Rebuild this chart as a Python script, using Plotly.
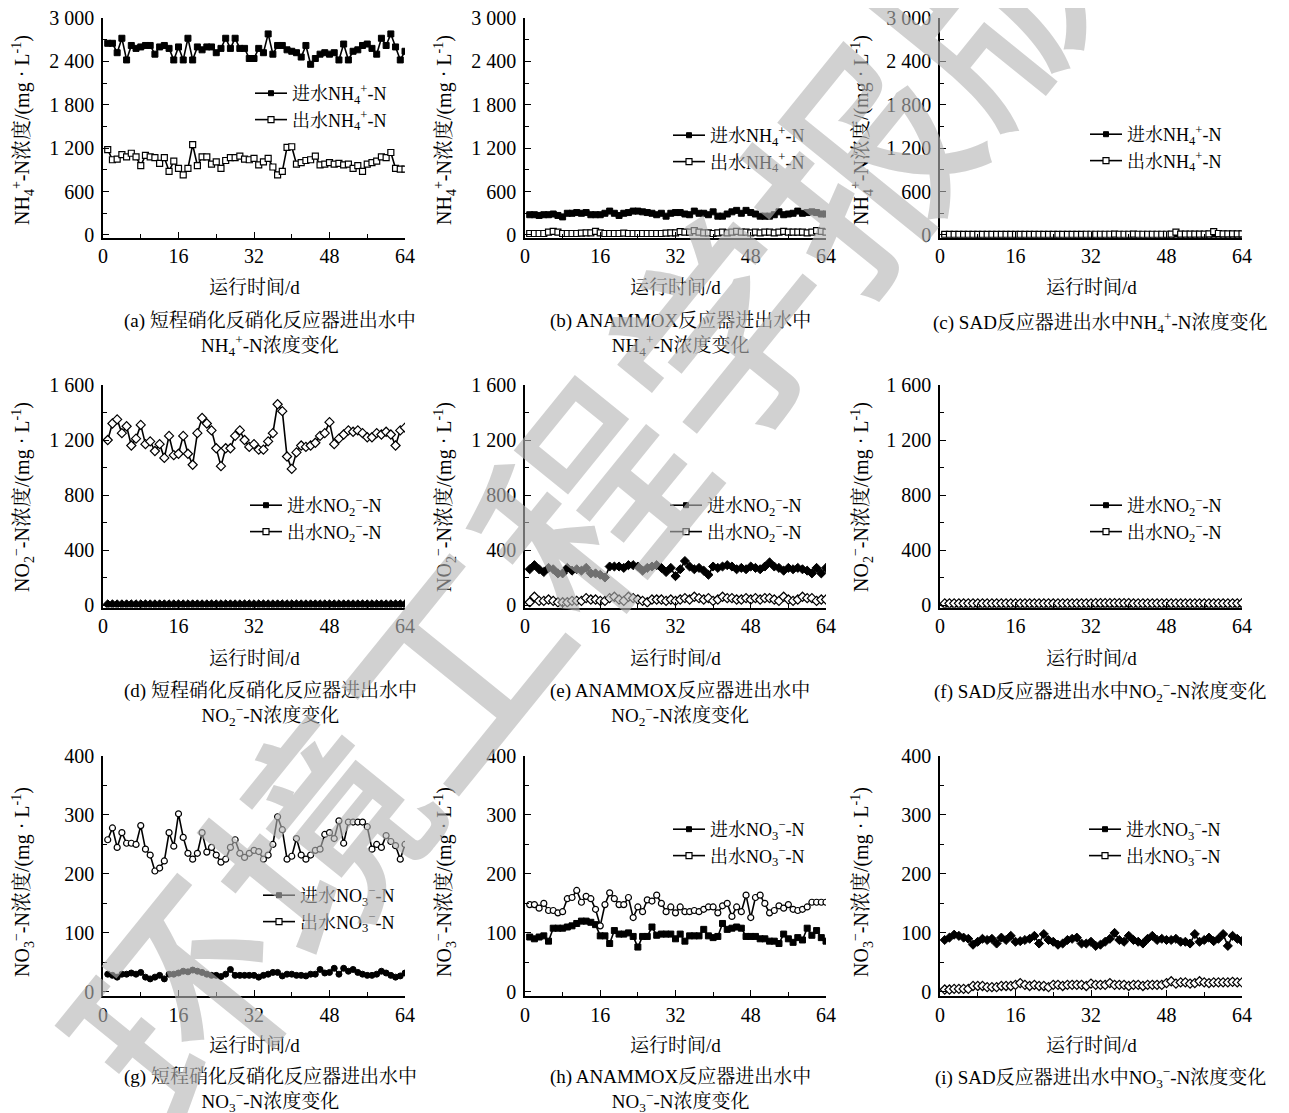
import plotly.graph_objects as go

W, H = 1289, 1113
OFF = 8  # the page body adds an 8 px margin; positions below are in screenshot pixels
FONT = "Liberation Serif, Times New Roman, Noto Serif CJK SC, Noto Sans CJK SC, serif"

# ---------------- data (mg/L), one value per day ----------------
A_IN = [2650, 2650, 2520, 2720, 2420, 2620, 2580, 2600, 2620, 2620, 2500, 2600, 2620, 2580, 2420, 2600,
        2420, 2720, 2420, 2600, 2560, 2600, 2600, 2520, 2580, 2720, 2580, 2720, 2580, 2580, 2440, 2440,
        2580, 2520, 2780, 2500, 2620, 2620, 2560, 2540, 2520, 2460, 2620, 2360, 2440, 2500, 2520, 2500,
        2520, 2420, 2640, 2420, 2540, 2560, 2620, 2640, 2580, 2500, 2720, 2620, 2780, 2600, 2420, 2540]
A_OUT = [1180, 1040, 1050, 1110, 1080, 1130, 1080, 960, 1100, 1080, 1070, 990, 1070, 880, 1020, 920,
         830, 920, 1250, 960, 1080, 1080, 980, 1010, 920, 1030, 1070, 1070, 1090, 1050, 1040, 1060,
         970, 1010, 1060, 940, 830, 880, 1210, 1220, 980, 1000, 1030, 1040, 1090, 970, 980, 1000,
         980, 990, 970, 980, 920, 960, 880, 980, 1000, 1020, 1080, 1070, 1140, 920, 910, 910]
B_IN = [280, 280, 270, 280, 280, 290, 270, 250, 300, 300, 310, 300, 310, 280, 280, 280,
        300, 330, 300, 270, 300, 310, 330, 330, 320, 310, 300, 280, 300, 260, 300, 310,
        310, 290, 280, 330, 300, 300, 280, 320, 260, 260, 290, 320, 340, 300, 340, 310,
        290, 260, 260, 260, 280, 320, 280, 290, 300, 330, 300, 310, 320, 310, 290, 290]
B_OUT = [20, 20, 20, 20, 40, 50, 40, 20, 20, 20, 20, 25, 30, 30, 50, 30,
         20, 20, 20, 20, 25, 20, 20, 20, 20, 20, 20, 20, 20, 25, 30, 30,
         45, 40, 40, 60, 40, 30, 30, 20, 30, 40, 30, 40, 50, 40, 40, 30,
         40, 30, 40, 40, 30, 40, 50, 40, 40, 40, 40, 30, 40, 60, 50, 40]
C_IN = [2, 2, 2, 2, 2, 2, 2, 2, 2, 2, 2, 2, 2, 2, 2, 2,
        2, 2, 2, 2, 2, 2, 2, 2, 2, 2, 2, 2, 2, 2, 2, 2,
        3, 3, 3, 3, 3, 3, 3, 3, 3, 3, 3, 3, 3, 3, 3, 3,
        3, 3, 3, 3, 3, 3, 3, 3, 3, 3, 3, 3, 3, 3, 3, 3]
C_OUT = [8, 8, 8, 8, 8, 8, 8, 8, 8, 8, 8, 8, 8, 8, 8, 8,
         8, 8, 8, 8, 8, 8, 8, 8, 8, 8, 8, 8, 8, 8, 10, 10,
         10, 10, 10, 10, 12, 10, 10, 10, 12, 10, 10, 10, 10, 10, 10, 10,
         12, 40, 12, 12, 12, 12, 12, 12, 15, 45, 20, 15, 15, 15, 15, 15]
D_IN = [5] * 64
D_OUT = [1200, 1320, 1350, 1250, 1300, 1160, 1210, 1310, 1170, 1190, 1120, 1170, 1070, 1230, 1090, 1100,
         1230, 1100, 1020, 1250, 1360, 1320, 1270, 1140, 1010, 1140, 1140, 1230, 1270, 1200, 1150, 1170,
         1130, 1130, 1190, 1250, 1460, 1410, 1080, 990, 1110, 1160, 1150, 1160, 1180, 1230, 1250, 1330,
         1170, 1210, 1240, 1270, 1260, 1270, 1250, 1220, 1220, 1250, 1240, 1260, 1240, 1160, 1270, 1290]
E_IN = [260, 290, 260, 240, 270, 260, 230, 230, 270, 250, 260, 250, 270, 230, 230, 220,
        200, 280, 280, 280, 270, 290, 290, 280, 250, 270, 280, 290, 270, 240, 270, 210,
        260, 320, 280, 260, 270, 250, 220, 280, 270, 280, 290, 280, 260, 270, 260, 280,
        270, 260, 280, 310, 280, 270, 250, 270, 260, 270, 260, 250, 230, 270, 230, 270]
E_OUT = [20, 60, 30, 30, 40, 30, 20, 20, 20, 30, 30, 30, 50, 40, 40, 30,
         30, 50, 60, 40, 30, 60, 50, 40, 30, 20, 40, 40, 40, 30, 40, 30,
         40, 50, 40, 60, 50, 40, 50, 30, 40, 60, 50, 50, 40, 40, 50, 40,
         50, 40, 50, 50, 40, 30, 60, 40, 30, 40, 60, 50, 50, 30, 40, 40]
F_IN = [3] * 64
F_OUT = [12, 12, 12, 12, 12, 12, 12, 12, 12, 12, 12, 12, 12, 12, 12, 12,
         12, 12, 12, 12, 12, 12, 12, 12, 12, 12, 12, 12, 12, 12, 12, 12,
         14, 14, 14, 14, 14, 14, 14, 14, 12, 12, 12, 12, 12, 12, 12, 12,
         12, 12, 12, 12, 12, 12, 12, 12, 12, 12, 12, 12, 12, 12, 12, 14]
G_IN = [30, 28, 25, 30, 30, 32, 30, 33, 25, 22, 25, 28, 22, 30, 30, 32,
        35, 34, 37, 35, 33, 30, 28, 28, 26, 30, 38, 28, 28, 28, 28, 28,
        25, 28, 30, 33, 33, 27, 30, 30, 28, 28, 27, 30, 30, 38, 32, 33,
        40, 30, 40, 35, 38, 33, 30, 28, 28, 30, 35, 32, 28, 25, 27, 32]
G_OUT = [258, 278, 245, 270, 252, 252, 250, 282, 242, 232, 205, 210, 222, 270, 247, 302,
         262, 235, 225, 235, 270, 237, 245, 232, 220, 225, 245, 258, 235, 228, 235, 240,
         238, 225, 232, 250, 297, 275, 225, 230, 260, 232, 225, 232, 240, 242, 267, 270,
         260, 290, 252, 288, 288, 288, 288, 280, 242, 250, 245, 265, 255, 248, 225, 250]
H_IN = [93, 90, 93, 95, 86, 108, 108, 108, 110, 112, 116, 120, 120, 118, 114, 95,
        95, 82, 104, 98, 98, 100, 94, 76, 94, 94, 110, 96, 98, 98, 98, 90,
        98, 86, 95, 95, 95, 106, 95, 92, 94, 116, 106, 108, 110, 108, 94, 94,
        94, 90, 90, 86, 86, 82, 98, 90, 84, 92, 88, 108, 96, 104, 92, 86]
H_OUT = [148, 148, 142, 150, 138, 138, 134, 136, 158, 160, 172, 152, 162, 158, 140, 112,
         148, 168, 158, 148, 148, 160, 126, 144, 136, 156, 154, 164, 150, 136, 144, 134,
         144, 136, 136, 138, 136, 140, 144, 144, 134, 146, 150, 128, 144, 136, 164, 126,
         160, 164, 150, 134, 138, 146, 142, 148, 140, 138, 140, 144, 152, 152, 152, 152]
I_IN = [88, 92, 97, 95, 92, 90, 80, 85, 90, 88, 90, 82, 92, 88, 95, 85,
        86, 88, 90, 95, 82, 98, 88, 85, 80, 82, 88, 90, 92, 82, 82, 85,
        78, 80, 85, 90, 100, 88, 85, 95, 88, 85, 82, 90, 95, 88, 90, 88,
        88, 90, 85, 85, 82, 98, 85, 88, 92, 86, 90, 98, 78, 95, 90, 86]
I_OUT = [4, 4, 5, 5, 5, 5, 10, 10, 10, 8, 8, 8, 10, 10, 10, 12,
         15, 12, 10, 12, 10, 10, 8, 12, 12, 10, 12, 12, 12, 12, 10, 14,
         12, 12, 12, 15, 12, 12, 12, 10, 12, 12, 10, 12, 12, 12, 12, 15,
         18, 14, 16, 16, 14, 15, 18, 16, 15, 16, 16, 16, 16, 17, 16, 16]

X_TICKS = [0, 16, 32, 48, 64]
Y_TICKS_NH4 = [0, 600, 1200, 1800, 2400, 3000]
Y_TEXT_NH4 = ["0", "600", "1 200", "1 800", "2 400", "3 000"]
Y_TICKS_NO2 = [0, 400, 800, 1200, 1600]
Y_TEXT_NO2 = ["0", "400", "800", "1 200", "1 600"]
Y_TICKS_NO3 = [0, 100, 200, 300, 400]
Y_TEXT_NO3 = ["0", "100", "200", "300", "400"]

NH4 = "NH<sub>4</sub><sup>+</sup>-N"
NO2 = "NO<sub>2</sub><sup>−</sup>-N"
NO3 = "NO<sub>3</sub><sup>−</sup>-N"
YT_NH4 = "NH<sub>4</sub><sup>+</sup>-N浓度/(mg · L<sup>-1</sup>)"
YT_NO2 = "NO<sub>2</sub><sup>−</sup>-N浓度/(mg · L<sup>-1</sup>)"
YT_NO3 = "NO<sub>3</sub><sup>−</sup>-N浓度/(mg · L<sup>-1</sup>)"
WATERMARK = "环境工程学报版权"

CAPTIONS = [
    "(a) 短程硝化反硝化反应器进出水中<br>" + NH4 + "浓度变化",
    "(b) ANAMMOX反应器进出水中<br>" + NH4 + "浓度变化",
    "(c) SAD反应器进出水中" + NH4 + "浓度变化",
    "(d) 短程硝化反硝化反应器进出水中<br>" + NO2 + "浓度变化",
    "(e) ANAMMOX反应器进出水中<br>" + NO2 + "浓度变化",
    "(f) SAD反应器进出水中" + NO2 + "浓度变化",
    "(g) 短程硝化反硝化反应器进出水中<br>" + NO3 + "浓度变化",
    "(h) ANAMMOX反应器进出水中<br>" + NO3 + "浓度变化",
    "(i) SAD反应器进出水中" + NO3 + "浓度变化",
]

# panel specs: (in data, out data, in symbol, out symbol, species, row, col)
PANELS = [
    (A_IN, A_OUT, "square", "square", NH4, 0, 0),
    (B_IN, B_OUT, "square", "square", NH4, 0, 1),
    (C_IN, C_OUT, "square", "square", NH4, 0, 2),
    (D_IN, D_OUT, "diamond", "diamond", NO2, 1, 0),
    (E_IN, E_OUT, "diamond", "diamond", NO2, 1, 1),
    (F_IN, F_OUT, "diamond", "diamond", NO2, 1, 2),
    (G_IN, G_OUT, "circle", "circle", NO3, 2, 0),
    (H_IN, H_OUT, "square", "circle", NO3, 2, 1),
    (I_IN, I_OUT, "diamond", "diamond", NO3, 2, 2),
]

# ---------------- layout geometry (screenshot pixels) ----------------
COL_X = [(103, 405), (525, 826), (940, 1242)]
ROW_Y = [(18, 237.5), (385, 607.5), (756, 996.0)]
ROW_RANGE = [(-35, 3000), (-18, 1600), (-7, 400)]
ROW_TICKS = [(Y_TICKS_NH4, Y_TEXT_NH4, 300), (Y_TICKS_NO2, Y_TEXT_NO2, 200), (Y_TICKS_NO3, Y_TEXT_NO3, 50)]
ROW_YTITLE = [YT_NH4, YT_NO2, YT_NO3]
YTITLE_X = [23, 445, 862]
YTITLE_Y = [130, 497, 882]
XTITLE_Y = [287, 658, 1045]
CAP_Y = [334, 704, 1090]          # centre of two-line captions
CAP_Y1 = [322, 691, 1077]         # centre of single-line captions
CAP_X = [270, 680, 1100]
# (start of legend line sample, centre of first legend row)
LEG_POS = [(255, 91), (673, 133), (1090, 132),
           (250, 503), (670, 503), (1090, 503),
           (263, 893), (673, 827), (1089, 827)]


def fx(px):
    return (px - OFF) / W


def fy(py):
    return 1 - (py - OFF) / H


fig = go.Figure()
layout = dict(
    width=W, height=H, margin=dict(l=0, r=0, t=0, b=0, autoexpand=False),
    paper_bgcolor="white", plot_bgcolor="white",
    font=dict(family=FONT, size=18, color="black"),
    annotations=[],
)

for k, (yin, yout, sin, sout, sp, r, c) in enumerate(PANELS):
    idx = k + 1
    xa = "x" if idx == 1 else f"x{idx}"
    ya = "y" if idx == 1 else f"y{idx}"
    leg = "legend" if idx == 1 else f"legend{idx}"
    days_in = list(range(1, len(yin) + 1))
    days_out = list(range(1, len(yout) + 1))
    # data traces
    fig.add_trace(go.Scatter(
        x=days_in, y=yin, xaxis=xa, yaxis=ya, showlegend=False, mode="lines+markers",
        name="进水" + sp, line=dict(color="black", width=1.6),
        marker=dict(symbol=sin, size=6 if sin != "diamond" else 7, color="black",
                    line=dict(color="black", width=1)),
    ))
    fig.add_trace(go.Scatter(
        x=days_out, y=yout, xaxis=xa, yaxis=ya, showlegend=False, mode="lines+markers",
        name="出水" + sp, line=dict(color="black", width=1.6),
        marker=dict(symbol=sout, size=6 if sout != "diamond" else 7, color="white",
                    line=dict(color="black", width=1.2)),
    ))
    # legend entries (the original legends always use square symbols)
    fig.add_trace(go.Scatter(
        x=[None], y=[None], xaxis=xa, yaxis=ya, legend=leg, mode="lines+markers",
        name="进水" + sp, line=dict(color="black", width=1.6),
        marker=dict(symbol="square", size=5, color="black", line=dict(color="black", width=1)),
    ))
    fig.add_trace(go.Scatter(
        x=[None], y=[None], xaxis=xa, yaxis=ya, legend=leg, mode="lines+markers",
        name="出水" + sp, line=dict(color="black", width=1.6),
        marker=dict(symbol="square", size=6, color="white", line=dict(color="black", width=1.2)),
    ))
    x0, x1 = COL_X[c]
    ytop, ybot = ROW_Y[r]
    tv, tt, minor = ROW_TICKS[r]
    axis_common = dict(showline=True, linecolor="black", linewidth=1.5, showgrid=False, zeroline=False,
                       ticks="inside", ticklen=6, tickwidth=1.2, tickcolor="black", automargin=False,
                       ticklabeloverflow="allow",
                       tickfont=dict(family=FONT, size=20, color="black"))
    layout["xaxis" if idx == 1 else f"xaxis{idx}"] = dict(
        domain=[fx(x0), fx(x1)], anchor=ya, range=[0, 64], tickvals=X_TICKS,
        minor=dict(dtick=8, tick0=0, ticks="inside", ticklen=4, tickcolor="black", tickwidth=1.2),
        **axis_common)
    layout["yaxis" if idx == 1 else f"yaxis{idx}"] = dict(
        domain=[fy(ybot), fy(ytop)], anchor=xa, range=list(ROW_RANGE[r]),
        tickvals=tv, ticktext=tt, ticklabelstandoff=3,
        minor=dict(dtick=minor, tick0=0, ticks="inside", ticklen=4, tickcolor="black", tickwidth=1.2),
        **axis_common)
    lx, ly = LEG_POS[k]
    layout[leg] = dict(x=fx(lx - 5), y=fy(ly - 16), xanchor="left", yanchor="top",
                       bgcolor="rgba(0,0,0,0)", font=dict(family=FONT, size=18, color="black"),
                       tracegroupgap=0, itemwidth=32)
    layout["annotations"].append(dict(
        text="运行时间/d", x=fx((x0 + x1) / 2), y=fy(XTITLE_Y[r]), xref="paper", yref="paper",
        showarrow=False, xanchor="center", yanchor="middle", font=dict(family=FONT, size=19)))
    layout["annotations"].append(dict(
        text=ROW_YTITLE[r], x=fx(YTITLE_X[c]), y=fy(YTITLE_Y[r]), xref="paper", yref="paper",
        showarrow=False, textangle=-90, xanchor="center", yanchor="middle", font=dict(family=FONT, size=20)))
    cap_y = CAP_Y[r] if "<br>" in CAPTIONS[k] else CAP_Y1[r]
    layout["annotations"].append(dict(
        text=CAPTIONS[k], x=fx(CAP_X[c]), y=fy(cap_y), xref="paper", yref="paper",
        showarrow=False, xanchor="center", yanchor="middle", align="center",
        font=dict(family=FONT, size=19)))

# journal watermark drawn over the figure
layout["annotations"].append(dict(
    text=WATERMARK, x=fx(648), y=fy(410), xref="paper", yref="paper", showarrow=False,
    textangle=-51, xanchor="center", yanchor="middle",
    font=dict(family="Noto Sans CJK SC", size=215, color="rgba(180,180,180,0.62)", weight=500)))

fig.update_layout(**layout)
fig.write_html("out.html")
